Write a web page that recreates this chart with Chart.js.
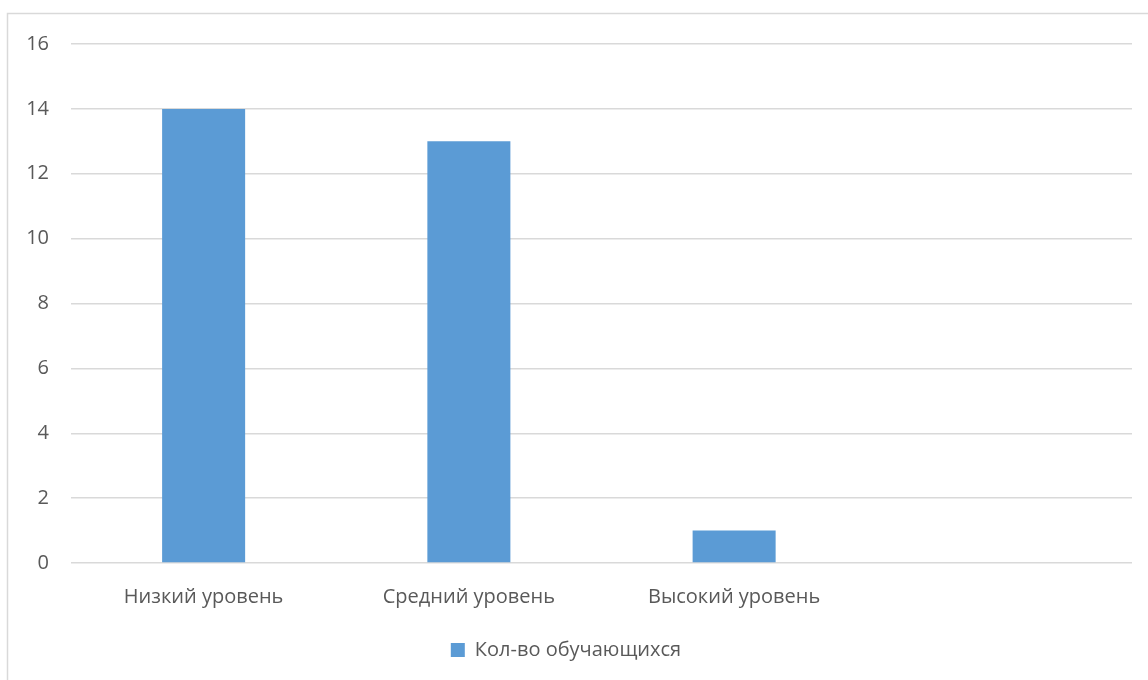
<!DOCTYPE html>
<html>
<head>
<meta charset="utf-8">
<script src="https://cdn.jsdelivr.net/npm/chart.js@4/dist/chart.umd.min.js"></script>
<style>
  html, body { margin: 0; padding: 0; background: #fff; }
  #wrap { position: relative; width: 1148px; height: 680px; }
</style>
</head>
<body>
<div id="wrap"><canvas id="c" width="1148" height="680"></canvas></div>
<script>
// Levels of achievement; the fourth slot is an empty category
const categories = ['Низкий уровень', 'Средний уровень', 'Высокий уровень', ''];
const seriesName = 'Кол-во обучающихся';
const studentCounts = [14, 13, 1, null];
const yTicks = [0, 2, 4, 6, 8, 10, 12, 14, 16];

const textColor = '#595959';
const gridColor = '#d9d9d9';
const barColor = '#5b9bd5';
const labelFont = { family: 'Open Sans', size: 20 };

// Thin frame around the chart
const framePlugin = {
  id: 'frame',
  beforeDraw(chart) {
    const ctx = chart.ctx;
    ctx.save();
    ctx.strokeStyle = '#d9d9d9';
    ctx.lineWidth = 1.5;
    ctx.strokeRect(7.5, 13.5, 1160, 700);
    ctx.restore();
  }
};

new Chart(document.getElementById('c'), {
  type: 'bar',
  data: {
    labels: categories,
    datasets: [{
      label: seriesName,
      data: studentCounts,
      backgroundColor: barColor,
      categoryPercentage: 1,
      barPercentage: 0.313
    }]
  },
  options: {
    responsive: false,
    animation: false,
    layout: { padding: { top: 44, right: 16, bottom: 10, left: 0 } },
    plugins: {
      legend: {
        position: 'bottom',
        labels: {
          color: textColor,
          font: labelFont,
          boxWidth: 14,
          boxHeight: 14,
          padding: 7
        }
      },
      tooltip: { enabled: false }
    },
    scales: {
      x: {
        grid: { display: false, drawTicks: false },
        border: { display: false },
        ticks: {
          color: textColor,
          font: labelFont,
          padding: 22,
          maxRotation: 0
        },
        afterFit(scale) { scale.height = 70; }
      },
      y: {
        min: 0,
        max: 16,
        afterBuildTicks(scale) { scale.ticks = yTicks.map(v => ({ value: v })); },
        grid: { color: gridColor, lineWidth: 1.5, drawTicks: false },
        border: { display: false },
        ticks: {
          color: textColor,
          font: labelFont,
          padding: 22
        },
        afterFit(scale) { scale.width = 71; }
      }
    }
  },
  plugins: [framePlugin]
});
</script>
</body>
</html>
